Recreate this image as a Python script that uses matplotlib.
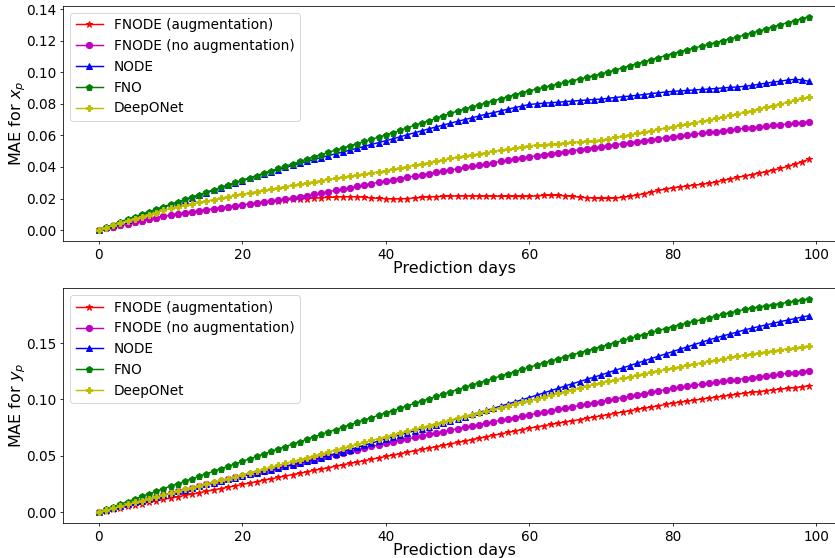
import matplotlib
matplotlib.use("Agg")
import matplotlib.pyplot as plt
import matplotlib.ticker as mticker

days = list(range(100))

labels = ["FNODE (augmentation)", "FNODE (no augmentation)", "NODE", "FNO", "DeepONet"]
colors = ["r", "m", "b", "g", "y"]
markers = ["*", "o", "^", "p", "P"]

# ---- MAE for x_p (top panel) ----
x_fnode_aug = [
    0.0000, 0.0010, 0.0020, 0.0030, 0.0040, 0.0049, 0.0059, 0.0068, 0.0077, 0.0086,
    0.0095, 0.0102, 0.0108, 0.0115, 0.0121, 0.0128, 0.0134, 0.0140, 0.0147, 0.0153,
    0.0159, 0.0165, 0.0171, 0.0177, 0.0182, 0.0187, 0.0191, 0.0194, 0.0197, 0.0200,
    0.0203, 0.0205, 0.0207, 0.0209, 0.0211, 0.0212, 0.0211, 0.0208, 0.0204, 0.0201,
    0.0199, 0.0198, 0.0198, 0.0200, 0.0203, 0.0207, 0.0210, 0.0212, 0.0214, 0.0215,
    0.0216, 0.0216, 0.0216, 0.0215, 0.0215, 0.0215, 0.0214, 0.0214, 0.0213, 0.0213,
    0.0214, 0.0217, 0.0220, 0.0221, 0.0220, 0.0217, 0.0213, 0.0209, 0.0205, 0.0203,
    0.0201, 0.0201, 0.0203, 0.0208, 0.0214, 0.0222, 0.0231, 0.0241, 0.0251, 0.0260,
    0.0269, 0.0274, 0.0279, 0.0285, 0.0290, 0.0296, 0.0305, 0.0315, 0.0324, 0.0334,
    0.0343, 0.0352, 0.0361, 0.0371, 0.0381, 0.0391, 0.0404, 0.0418, 0.0433, 0.0450,
]
x_fnode_noaug = [
    0.0000, 0.0010, 0.0020, 0.0030, 0.0039, 0.0048, 0.0058, 0.0067, 0.0076, 0.0086,
    0.0095, 0.0102, 0.0108, 0.0115, 0.0121, 0.0127, 0.0134, 0.0140, 0.0146, 0.0153,
    0.0159, 0.0165, 0.0171, 0.0177, 0.0184, 0.0190, 0.0197, 0.0204, 0.0212, 0.0219,
    0.0226, 0.0235, 0.0243, 0.0252, 0.0260, 0.0269, 0.0277, 0.0286, 0.0294, 0.0303,
    0.0311, 0.0319, 0.0327, 0.0335, 0.0342, 0.0350, 0.0358, 0.0366, 0.0373, 0.0381,
    0.0389, 0.0397, 0.0404, 0.0412, 0.0419, 0.0427, 0.0435, 0.0442, 0.0450, 0.0457,
    0.0465, 0.0471, 0.0478, 0.0484, 0.0491, 0.0497, 0.0503, 0.0510, 0.0516, 0.0523,
    0.0529, 0.0535, 0.0542, 0.0548, 0.0554, 0.0560, 0.0567, 0.0573, 0.0579, 0.0586,
    0.0592, 0.0597, 0.0603, 0.0608, 0.0613, 0.0619, 0.0624, 0.0629, 0.0634, 0.0640,
    0.0645, 0.0650, 0.0654, 0.0659, 0.0664, 0.0668, 0.0673, 0.0678, 0.0682, 0.0687,
]
x_node = [
    0.0000, 0.0017, 0.0034, 0.0050, 0.0066, 0.0082, 0.0098, 0.0113, 0.0129, 0.0144,
    0.0160, 0.0175, 0.0191, 0.0206, 0.0222, 0.0237, 0.0252, 0.0268, 0.0283, 0.0298,
    0.0313, 0.0328, 0.0343, 0.0357, 0.0371, 0.0384, 0.0397, 0.0410, 0.0423, 0.0435,
    0.0448, 0.0460, 0.0472, 0.0484, 0.0495, 0.0507, 0.0519, 0.0531, 0.0543, 0.0555,
    0.0567, 0.0579, 0.0592, 0.0605, 0.0617, 0.0630, 0.0642, 0.0654, 0.0666, 0.0678,
    0.0690, 0.0701, 0.0712, 0.0724, 0.0735, 0.0745, 0.0756, 0.0767, 0.0777, 0.0787,
    0.0797, 0.0801, 0.0805, 0.0808, 0.0811, 0.0815, 0.0818, 0.0822, 0.0825, 0.0828,
    0.0831, 0.0836, 0.0841, 0.0846, 0.0850, 0.0855, 0.0860, 0.0866, 0.0871, 0.0876,
    0.0880, 0.0883, 0.0886, 0.0889, 0.0892, 0.0895, 0.0898, 0.0902, 0.0905, 0.0908,
    0.0912, 0.0918, 0.0925, 0.0932, 0.0939, 0.0945, 0.0952, 0.0956, 0.0953, 0.0943,
]
x_fno = [
    0.0000, 0.0018, 0.0035, 0.0052, 0.0069, 0.0085, 0.0101, 0.0117, 0.0133, 0.0148,
    0.0163, 0.0179, 0.0194, 0.0210, 0.0225, 0.0240, 0.0256, 0.0271, 0.0286, 0.0302,
    0.0317, 0.0331, 0.0346, 0.0361, 0.0376, 0.0391, 0.0405, 0.0420, 0.0435, 0.0450,
    0.0465, 0.0479, 0.0493, 0.0507, 0.0520, 0.0534, 0.0548, 0.0562, 0.0576, 0.0589,
    0.0603, 0.0618, 0.0633, 0.0649, 0.0664, 0.0679, 0.0694, 0.0709, 0.0725, 0.0740,
    0.0755, 0.0768, 0.0781, 0.0794, 0.0807, 0.0820, 0.0833, 0.0846, 0.0859, 0.0871,
    0.0884, 0.0894, 0.0905, 0.0915, 0.0926, 0.0937, 0.0948, 0.0958, 0.0969, 0.0979,
    0.0990, 0.1003, 0.1016, 0.1029, 0.1042, 0.1055, 0.1068, 0.1081, 0.1094, 0.1107,
    0.1120, 0.1132, 0.1143, 0.1155, 0.1167, 0.1178, 0.1190, 0.1202, 0.1213, 0.1225,
    0.1237, 0.1250, 0.1263, 0.1276, 0.1290, 0.1303, 0.1316, 0.1329, 0.1342, 0.1354,
]
x_deeponet = [
    0.0000, 0.0015, 0.0030, 0.0045, 0.0059, 0.0072, 0.0085, 0.0098, 0.0111, 0.0124,
    0.0137, 0.0147, 0.0157, 0.0166, 0.0175, 0.0184, 0.0193, 0.0202, 0.0211, 0.0220,
    0.0228, 0.0236, 0.0244, 0.0252, 0.0260, 0.0268, 0.0276, 0.0284, 0.0292, 0.0299,
    0.0307, 0.0314, 0.0321, 0.0328, 0.0335, 0.0342, 0.0349, 0.0356, 0.0363, 0.0369,
    0.0376, 0.0385, 0.0394, 0.0403, 0.0411, 0.0420, 0.0428, 0.0437, 0.0446, 0.0454,
    0.0463, 0.0470, 0.0477, 0.0484, 0.0492, 0.0499, 0.0506, 0.0513, 0.0520, 0.0528,
    0.0535, 0.0539, 0.0542, 0.0546, 0.0549, 0.0553, 0.0556, 0.0560, 0.0564, 0.0567,
    0.0571, 0.0579, 0.0588, 0.0596, 0.0605, 0.0613, 0.0622, 0.0630, 0.0639, 0.0647,
    0.0656, 0.0664, 0.0673, 0.0681, 0.0690, 0.0698, 0.0708, 0.0718, 0.0727, 0.0737,
    0.0747, 0.0758, 0.0768, 0.0779, 0.0789, 0.0800, 0.0811, 0.0823, 0.0835, 0.0846,
]

# ---- MAE for y_p (bottom panel) ----
y_fnode_aug = [
    0.0000, 0.0012, 0.0025, 0.0037, 0.0050, 0.0062, 0.0074, 0.0087, 0.0099, 0.0112,
    0.0124, 0.0136, 0.0148, 0.0160, 0.0172, 0.0185, 0.0197, 0.0209, 0.0221, 0.0233,
    0.0245, 0.0258, 0.0270, 0.0283, 0.0295, 0.0308, 0.0320, 0.0333, 0.0345, 0.0358,
    0.0370, 0.0382, 0.0395, 0.0407, 0.0420, 0.0432, 0.0444, 0.0457, 0.0469, 0.0482,
    0.0494, 0.0506, 0.0519, 0.0531, 0.0544, 0.0556, 0.0568, 0.0581, 0.0593, 0.0606,
    0.0618, 0.0631, 0.0644, 0.0656, 0.0669, 0.0682, 0.0694, 0.0707, 0.0720, 0.0732,
    0.0745, 0.0756, 0.0767, 0.0778, 0.0789, 0.0800, 0.0811, 0.0822, 0.0833, 0.0844,
    0.0855, 0.0866, 0.0877, 0.0888, 0.0900, 0.0911, 0.0922, 0.0933, 0.0944, 0.0956,
    0.0967, 0.0976, 0.0985, 0.0994, 0.1003, 0.1012, 0.1020, 0.1029, 0.1038, 0.1047,
    0.1056, 0.1063, 0.1070, 0.1078, 0.1085, 0.1092, 0.1099, 0.1106, 0.1114, 0.1121,
]
y_fnode_noaug = [
    0.0000, 0.0017, 0.0034, 0.0051, 0.0068, 0.0085, 0.0101, 0.0118, 0.0134, 0.0151,
    0.0168, 0.0183, 0.0199, 0.0214, 0.0230, 0.0245, 0.0260, 0.0276, 0.0291, 0.0307,
    0.0322, 0.0336, 0.0350, 0.0364, 0.0378, 0.0392, 0.0407, 0.0421, 0.0435, 0.0450,
    0.0464, 0.0479, 0.0494, 0.0508, 0.0523, 0.0538, 0.0553, 0.0568, 0.0583, 0.0597,
    0.0612, 0.0625, 0.0638, 0.0650, 0.0663, 0.0676, 0.0689, 0.0702, 0.0714, 0.0727,
    0.0740, 0.0752, 0.0765, 0.0777, 0.0790, 0.0802, 0.0814, 0.0827, 0.0839, 0.0852,
    0.0864, 0.0876, 0.0888, 0.0900, 0.0911, 0.0923, 0.0935, 0.0947, 0.0959, 0.0970,
    0.0982, 0.0994, 0.1006, 0.1017, 0.1029, 0.1041, 0.1053, 0.1065, 0.1076, 0.1088,
    0.1100, 0.1109, 0.1117, 0.1126, 0.1134, 0.1143, 0.1152, 0.1160, 0.1169, 0.1177,
    0.1186, 0.1194, 0.1201, 0.1209, 0.1216, 0.1224, 0.1232, 0.1239, 0.1247, 0.1254,
]
y_node = [
    0.0000, 0.0017, 0.0034, 0.0051, 0.0068, 0.0085, 0.0102, 0.0119, 0.0136, 0.0153,
    0.0170, 0.0185, 0.0200, 0.0215, 0.0230, 0.0245, 0.0260, 0.0275, 0.0290, 0.0305,
    0.0320, 0.0334, 0.0348, 0.0362, 0.0376, 0.0390, 0.0405, 0.0420, 0.0435, 0.0450,
    0.0465, 0.0483, 0.0501, 0.0519, 0.0537, 0.0555, 0.0574, 0.0593, 0.0612, 0.0631,
    0.0650, 0.0668, 0.0686, 0.0704, 0.0722, 0.0740, 0.0758, 0.0776, 0.0794, 0.0812,
    0.0830, 0.0848, 0.0867, 0.0885, 0.0904, 0.0922, 0.0941, 0.0960, 0.0979, 0.0998,
    0.1017, 0.1038, 0.1058, 0.1079, 0.1099, 0.1120, 0.1140, 0.1159, 0.1179, 0.1198,
    0.1218, 0.1239, 0.1260, 0.1280, 0.1301, 0.1322, 0.1343, 0.1364, 0.1384, 0.1405,
    0.1426, 0.1447, 0.1467, 0.1488, 0.1508, 0.1529, 0.1547, 0.1565, 0.1582, 0.1600,
    0.1618, 0.1633, 0.1648, 0.1662, 0.1677, 0.1692, 0.1705, 0.1718, 0.1732, 0.1745,
]
y_fno = [
    0.0000, 0.0024, 0.0047, 0.0070, 0.0093, 0.0116, 0.0139, 0.0162, 0.0185, 0.0208,
    0.0230, 0.0252, 0.0274, 0.0296, 0.0318, 0.0340, 0.0362, 0.0384, 0.0406, 0.0428,
    0.0450, 0.0472, 0.0494, 0.0516, 0.0538, 0.0560, 0.0582, 0.0603, 0.0625, 0.0647,
    0.0668, 0.0690, 0.0711, 0.0733, 0.0754, 0.0775, 0.0797, 0.0818, 0.0839, 0.0860,
    0.0881, 0.0902, 0.0923, 0.0944, 0.0965, 0.0985, 0.1006, 0.1027, 0.1047, 0.1068,
    0.1088, 0.1108, 0.1128, 0.1148, 0.1168, 0.1188, 0.1208, 0.1228, 0.1247, 0.1267,
    0.1287, 0.1305, 0.1324, 0.1342, 0.1360, 0.1379, 0.1397, 0.1415, 0.1433, 0.1451,
    0.1470, 0.1488, 0.1506, 0.1524, 0.1542, 0.1560, 0.1577, 0.1595, 0.1613, 0.1630,
    0.1648, 0.1663, 0.1678, 0.1694, 0.1709, 0.1724, 0.1740, 0.1755, 0.1770, 0.1785,
    0.1800, 0.1811, 0.1821, 0.1831, 0.1842, 0.1852, 0.1862, 0.1872, 0.1883, 0.1893,
]
y_deeponet = [
    0.0000, 0.0017, 0.0034, 0.0051, 0.0068, 0.0085, 0.0102, 0.0119, 0.0136, 0.0153,
    0.0170, 0.0186, 0.0202, 0.0218, 0.0234, 0.0250, 0.0266, 0.0282, 0.0298, 0.0314,
    0.0331, 0.0348, 0.0365, 0.0382, 0.0399, 0.0416, 0.0433, 0.0450, 0.0466, 0.0483,
    0.0500, 0.0517, 0.0534, 0.0551, 0.0568, 0.0585, 0.0602, 0.0619, 0.0636, 0.0653,
    0.0670, 0.0686, 0.0703, 0.0719, 0.0736, 0.0752, 0.0768, 0.0785, 0.0801, 0.0818,
    0.0834, 0.0850, 0.0865, 0.0881, 0.0896, 0.0912, 0.0928, 0.0943, 0.0959, 0.0974,
    0.0990, 0.1006, 0.1022, 0.1038, 0.1054, 0.1070, 0.1086, 0.1102, 0.1118, 0.1134,
    0.1150, 0.1163, 0.1176, 0.1189, 0.1202, 0.1215, 0.1228, 0.1241, 0.1254, 0.1267,
    0.1280, 0.1292, 0.1303, 0.1315, 0.1326, 0.1338, 0.1350, 0.1361, 0.1373, 0.1384,
    0.1396, 0.1405, 0.1414, 0.1423, 0.1432, 0.1441, 0.1450, 0.1459, 0.1467, 0.1476,
]

x_ticks = [0, 20, 40, 60, 80, 100]
top_yticks = [0.0, 0.02, 0.04, 0.06, 0.08, 0.10, 0.12, 0.14]
bot_yticks = [0.0, 0.05, 0.10, 0.15]

top_series = [x_fnode_aug, x_fnode_noaug, x_node, x_fno, x_deeponet]
bot_series = [y_fnode_aug, y_fnode_noaug, y_node, y_fno, y_deeponet]

DPI = 70
W, H = 835.0, 558.0
fig = plt.figure(figsize=(W / DPI, H / DPI), dpi=DPI)
ax1 = fig.add_axes([63.3 / W, (H - 240.7) / H, (844.7 - 63.3) / W, 234.7 / H])
ax2 = fig.add_axes([63.3 / W, (H - 522.7) / H, (844.7 - 63.3) / W, 234.4 / H])

for ax, series, ylab, yt in [(ax1, top_series, r"MAE for $x_p$", top_yticks),
                             (ax2, bot_series, r"MAE for $y_p$", bot_yticks)]:
    for vals, lab, c, mk in zip(series, labels, colors, markers):
        ax.plot(days, vals, color=c, marker=mk, markersize=6.5, linewidth=1.5, label=lab)
    ax.set_xlabel("Prediction days", fontsize=16.5, labelpad=-1)
    ax.set_ylabel(ylab, fontsize=16.5, labelpad=-2)
    ax.tick_params(labelsize=14)
    ax.legend(loc="upper left", fontsize=14)
    ax.set_xticks(x_ticks)
    ax.set_yticks(yt)
    ax.yaxis.set_major_formatter(mticker.FormatStrFormatter("%.2f"))
    ax.margins(x=0.05, y=0.05)

fig.savefig("out.png", dpi=DPI)
